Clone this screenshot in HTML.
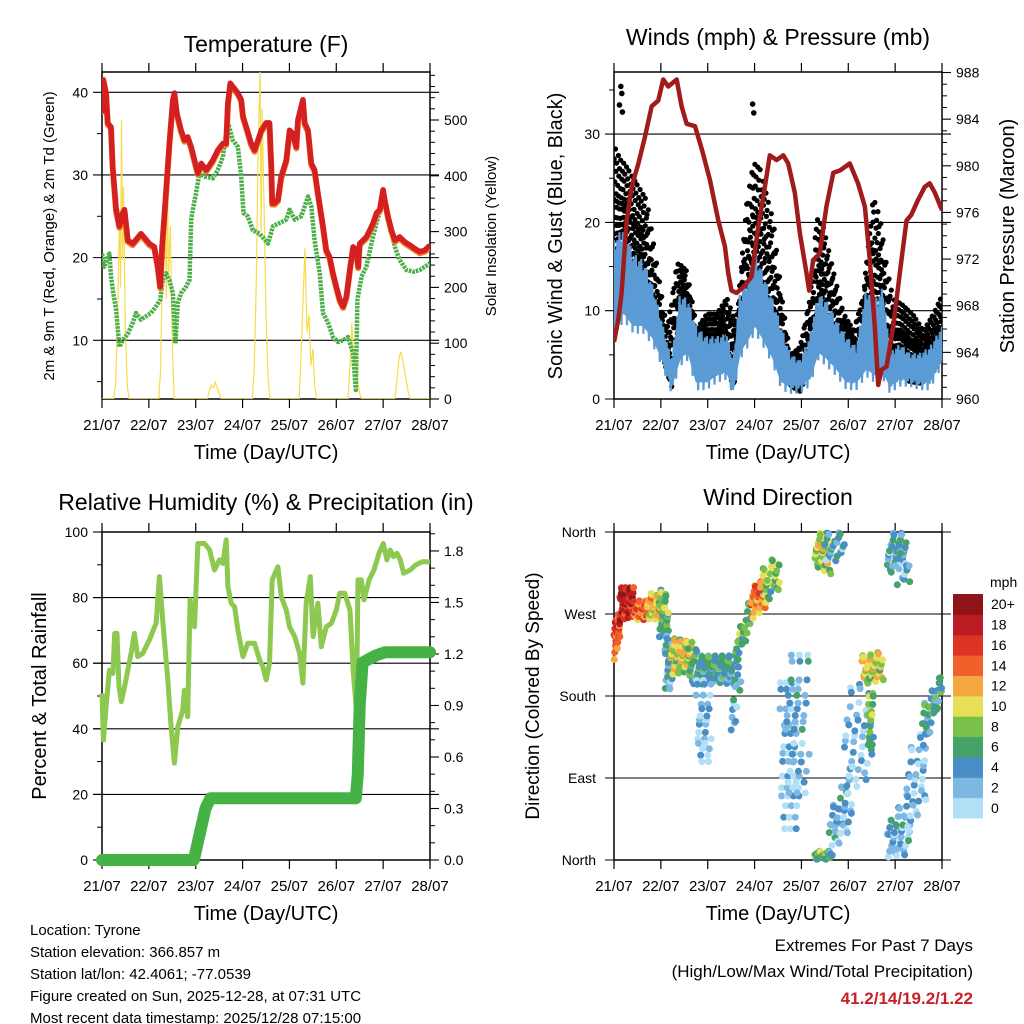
<!DOCTYPE html>
<html><head><meta charset="utf-8"><style>
html,body{margin:0;padding:0;background:#fff}
svg{display:block;font-family:"Liberation Sans",Arial,sans-serif}
</style></head><body>
<svg id="chart" width="1024" height="1024" viewBox="0 0 1024 1024" xmlns="http://www.w3.org/2000/svg">
<defs>
<clipPath id="c1"><rect x="102" y="72" width="328" height="327"/></clipPath>
<clipPath id="c2"><rect x="614" y="72" width="328" height="327"/></clipPath>
<clipPath id="c3"><rect x="92" y="526" width="348" height="340"/></clipPath>
<clipPath id="c4"><rect x="608" y="526" width="340" height="340"/></clipPath>
</defs>
<g id="root"></g>
</svg>
<script>
// ---------- Temperature data ----------
const tempHours=[0,0.7,2.1,2.9,4.6,5.5,7.2,8.9,10.6,11.5,13.2,15.7,20,24.3,26.8,28.6,29.8,30.8,32.5,34.5,36.3,37.1,38.3,40.5,42.2,43.9,45.7,47.4,49.1,50.8,53.4,56.8,59.3,61.9,63.6,64.5,65.7,67,69.6,71.3,72.2,73.9,76.4,78.1,79.9,81.6,84.1,85.8,86.7,87.2,88.4,90.1,91.8,94.4,96.1,97.8,99.5,100.4,102.1,102.9,103.8,105.5,107.2,108.9,110.6,113.2,114.9,116.6,118.3,120,121.8,123.5,125.2,126.9,128.6,130.3,131.2,132,133.7,135.4,137.1,138.9,140.6,142.3,144,144.8,146.5,148.3,150,152.5,155.1,157.7,160.2,162.8,165.4,168];
const tempRed=[37.5,41.5,39.9,36.3,35.8,31,25.8,23.8,25.4,25.8,22.1,21.7,22.9,21.7,21.3,18.9,16.5,21.3,27,33.8,39.1,39.9,37.5,35.4,34.2,34.6,33.4,31.8,30.2,31.4,30.6,31.8,33,33.8,33.8,38.7,41.1,40.7,39.9,39.1,37.1,35.8,33.8,33,34.2,35.4,36.3,36.3,31,26.6,26.6,27,29.8,31.8,35.4,35,33.4,36.7,38.3,39.1,36.3,35.4,31.4,30.6,27.8,23.8,20.9,20.1,18.1,16.5,14.9,14.1,15.3,18.5,21.3,20.9,18.9,21.7,22.1,22.5,23.3,24.2,25.4,25.8,28.2,27,25,23.3,22.1,22.5,21.9,21.5,21.1,20.7,20.9,21.5];
const tdHours=[0,1.2,3.8,4.6,5.8,7.2,8.9,10.6,13.2,15.7,17.4,20,22.6,25.1,27.7,29.8,31.1,32.8,34.5,36.3,37.6,38.8,40.5,43.1,44.8,45.7,46.5,48.2,49.9,52.5,56.8,59.3,61.9,63.9,64.9,67,69.6,71.3,72.5,74.7,77.3,80.7,85,87.6,91,94.4,96.1,98.7,102.1,105.5,107.2,108.9,111.5,113.2,115.8,118.3,120.9,123.5,126,128.6,130,130.8,132.9,135.4,138,140.6,143.1,144.8,147.4,150,152.5,155.9,159.4,162.8,168];
const tdValues=[20.5,18.9,20.5,17.7,15.7,13.7,9.2,10,10.8,12.1,13.3,12.5,12.9,13.3,14.1,14.9,17.3,18.1,17.3,15.7,9.6,14.5,15.7,16.5,17.3,24.6,25.8,27.8,30.2,29.8,29.6,30.6,32.2,35.8,36,34.2,33.4,29.8,25.4,25,23.3,22.9,21.7,23.8,24.2,24.6,25.8,24.6,25,27.4,26.2,22.1,18.1,13.3,12.1,10.4,9.8,10,10.4,8.4,4,14.9,17.7,18.9,21.7,24.2,26.2,26.6,23.8,21.3,19.7,18.5,18.3,18.5,19.3];
const solarHours=[0,6,7,8,9,9.5,10,10.5,11,12,13,14,29,30,31,32,33,33.5,34,35,36,37,38,54,55,56,57,58,59,60,61,77,78,79,80,81,81.5,82,83,84,85,86,101,102,103,104,105,106,107,108,109,110,126,127,128,129,130,131,132,133,150,151,152,153,154,155,156,157,158,168];
const solarValues=[0,0,30,150,340,200,500,250,380,120,20,0,0,50,250,380,180,430,220,310,100,0,0,0,15,25,20,30,20,10,0,0,60,200,450,590,300,520,350,150,40,0,0,80,180,270,120,150,60,90,20,0,0,60,136,60,90,30,10,0,0,30,70,85,70,50,30,10,0,0];
// ---------- Wind / pressure data ----------
const presHours=[0,2.2,3.9,6.5,9,12.5,15.9,19.3,22.7,25.2,27.8,32.1,34.6,37.2,41.5,45,49.1,53.4,56.8,58.5,60.2,62.8,66.2,70.5,73.9,77.3,79.8,83.3,86.7,89.2,92.6,95.2,98.6,100,102,105.4,108.8,112.3,115.7,120.8,125,128.5,131,133.6,135.3,137,139.6,143,146.4,149.8,152.3,155.8,159.2,161.7,164.3,168];
const presValues=[964.9,966.8,969.1,975.3,978.2,980.2,982.5,985.1,985.6,987.4,986.8,987.4,985.1,983.6,983.4,981.4,978.8,975.3,973.1,970.8,969.3,969.1,969.6,970.5,974.8,978.2,980.9,980.5,980.9,980.2,977.7,974.2,970.8,969.3,971.9,972.5,976.5,979.4,979.6,980.2,978.5,976.5,971.9,966.2,961.2,962.5,962.8,966.2,970.8,975.3,975.8,977.1,978.2,978.5,977.7,976.2];
const windHours=[0,4.8,9.9,15,20.1,25.2,29.5,33.8,38,42.3,47.4,52.5,57.7,61.1,64.5,68.8,72.2,76.4,81.5,85.8,90.1,95.2,100.3,104.6,108.8,114,119.1,124.2,129.3,133.6,137.8,141.3,146.4,151.5,156.6,161.7,168];
const windUpper=[18,19.5,16.5,15.7,12.7,8.2,4.4,12,11.2,8.2,7.1,7.1,7.4,4.4,12,13.8,16.5,14.2,11.2,8.2,5.2,4.4,7.1,12,11.2,8.9,7.1,5.9,12.7,11.2,12.7,5.2,6.3,5.2,5.2,5.9,8.2];
const windLower=[6.3,8.9,7.4,7.4,5.9,3.3,0.6,3.7,4.4,1,1,1.8,2.2,0.3,4.4,5.9,7.4,5.9,3.7,1,0.6,0.6,1.4,4.4,3.7,2.5,1,1,2.5,1.8,2.2,0.6,1.4,1.4,1,1,3.7];
const gustHours=[0,3.1,6.5,11.6,16.7,21.8,27,32.1,37.2,42.3,47.4,52.5,57.7,62.8,67.9,71.3,74.7,78.1,81.5,85.8,90.1,95.2,100.3,103.7,107.1,112.3,117.4,122.5,127.6,132.7,136.1,139.5,143,148.1,153.2,158.3,163.4,168];
const gustUpper=[29.7,28,27.1,25.2,23.3,15.7,8.2,16.1,15,8.2,10.1,10.1,12,8.9,23.3,27.8,27.1,24,21,12,5.2,6.3,12,21.4,20.3,15,10.1,8.2,12,24,21.4,15.7,12,11.2,10.1,8.2,10.1,12.3];
const gustOutlierH=[3.5,4,4.3,2.8,71,71.6];
const gustOutlierV=[35.4,34.6,32.5,33.3,33.4,32.4];
// ---------- RH / precip data ----------
const rhHours=[0,0.7,2.1,3.8,5.6,6.5,7.7,8.7,9.9,11.6,13.2,14.9,16.6,18.3,20.9,24.3,27.7,29.4,31.1,33.7,35.4,37.1,38.8,41.4,42.2,43.9,45.1,47.4,49.1,52.5,55.1,57.6,60.2,61.9,63.6,64.5,66.2,67.9,69.6,72.2,74.7,78.1,80.7,82.4,84.1,85.8,87.2,90.1,91.8,94.4,96.1,98.7,101.2,102.9,104.6,106.7,108.1,110.6,112.3,114.9,117.5,120,121.8,124.3,127,128.6,130.3,131.1,132.8,134.2,136.8,139.3,141.9,144.1,145.9,147.6,149.3,151.1,152.8,154.5,157.9,160.5,163.9,168];
const rhValues=[50.8,36.6,46.7,57.9,56.9,69.1,69.1,52.8,48.3,52.8,57.9,63,69.1,62,63,67.1,72.2,86.4,73.2,54.9,40.6,29.5,40.6,45.7,51.8,43.7,79.3,71.1,96.5,96.5,94.5,88.4,91.5,90.4,97.6,83.3,78.3,77.2,70.1,62,66.1,66.1,61,58.9,54.9,60,85.4,89.4,80.3,76.2,71.1,68.1,63,53.9,78.3,86.4,68.1,78.3,65,71.1,72.2,76.2,81.3,81.3,76.2,57.9,45.7,85.4,85.4,79.3,85.4,88.4,93.5,96.5,91.5,94.5,92.5,93.5,91.5,87.4,88.4,89.9,90.9,90.9];
const rainHours=[0,47,49,53,55.5,130,131,132,133.5,140,145,168];
const rainValues=[0,0,0.1,0.3,0.36,0.36,0.5,0.9,1.15,1.19,1.21,1.21];
// ---------- Wind direction clusters ----------
// [startHour, endHour, degLowStart, degHighStart, degLowEnd, degHighEnd, speedMph, count]
const dirClusters=[
[0,3,215,260,240,275,15,14],[3,10,260,300,265,300,18,24],[10,17,262,285,262,285,14,16],[17,24,262,295,262,290,11,16],
[23,28,240,300,245,290,7,14],[26,30,183,250,183,240,4,12],[29,40,200,245,205,240,10,26],[38,45,190,235,190,230,6,12],
[44,62,195,225,190,225,5,36],[42,50,100,200,100,200,2,16],[60,65,120,200,180,220,3,8],[62,70,210,240,250,290,7,14],
[70,78,260,300,275,310,13,18],[76,85,275,320,295,340,8,14],[85,95,20,200,20,200,2,24],[88,100,60,230,60,230,3,20],
[103,111,320,360,310,360,9,18],[108,118,320,360,330,360,4,12],[103,112,0,10,0,10,7,14],[110,122,0,50,30,110,3,20],
[118,130,60,190,80,200,2,18],[127,138,190,225,195,230,10,20],[130,133,110,185,110,185,7,10],[140,150,310,360,320,360,4,18],
[144,152,290,340,300,340,4,6],[140,152,0,40,0,80,3,20],[150,160,20,120,60,150,2,16],[158,168,110,170,180,205,5,18]];
const speedColors=['#b3e0f7','#7db8e2','#4a8ec6','#45a36a','#7bc04a','#e6df57','#f5a742','#f0602a','#dc3326','#bb1c22','#8f1418'];
const speedLabels=['0','2','4','6','8','10','12','14','16','18','20+'];
const dayLabels=['21/07','22/07','23/07','24/07','25/07','26/07','27/07','28/07'];

const NS='http://www.w3.org/2000/svg';
const root=document.getElementById('root');
function el(tag,attrs,parent){const e=document.createElementNS(NS,tag);for(const k in attrs)e.setAttribute(k,attrs[k]);(parent||root).appendChild(e);return e;}
function txt(s,x,y,size,anchor,parent,extra){const t=el('text',Object.assign({x:x,y:y,'font-size':size,'text-anchor':anchor||'middle',fill:'#000'},extra||{}),parent);t.textContent=s;return t;}
function interp(hs,vs,h){if(h<=hs[0])return vs[0];for(let i=1;i<hs.length;i++){if(h<=hs[i]){const f=(h-hs[i-1])/(hs[i]-hs[i-1]);return vs[i-1]+f*(vs[i]-vs[i-1]);}}return vs[vs.length-1];}
function pathD(hs,vs,fx,fy){return hs.map((h,i)=>(i?'L':'M')+fx(h).toFixed(1)+','+fy(vs[i]).toFixed(1)).join('');}

function frame(x0,y0,x1,y1,name){
  const g=el('g',{});
  
  
  el('rect',{x:x0,y:y0,width:x1-x0,height:y1-y0,fill:'none',stroke:'#000','stroke-width':1.5},g);
  for(let d=0;d<8;d++){const x=x0+d*(x1-x0)/7;
    el('line',{x1:x,y1:y0,x2:x,y2:y0-9,stroke:'#000','stroke-width':1.2},g);
    el('line',{x1:x,y1:y1,x2:x,y2:y1+9,stroke:'#000','stroke-width':1.2},g);
    const t=txt(dayLabels[d],x,y1+31,15,'middle',g);
    
    }
  const tt=txt('Time (Day/UTC)',(x0+x1)/2,y1+60,20,'middle',g);
  
  
  return g;
}
function yTicksLeft(g,x0,x1,vals,fy,labels,grid,minor,mfy){
  vals.forEach((v,i)=>{const y=fy(v);
    if(grid) el('line',{x1:x0-9,y1:y,x2:x1+9,y2:y,stroke:'#000','stroke-width':1.1},g);
    else el('line',{x1:x0-9,y1:y,x2:x0,y2:y,stroke:'#000','stroke-width':1.1},g);
    const t=txt(labels[i],x0-14,y+5,14,'end',g);
    
    });
  (minor||[]).forEach(v=>{const y=mfy(v);el('line',{x1:x0-5,y1:y,x2:x0,y2:y,stroke:'#000','stroke-width':1},g);});
}
function yTicksRight(g,x1,vals,fy,labels,minor){
  vals.forEach((v,i)=>{const y=fy(v);el('line',{x1:x1,y1:y,x2:x1+9,y2:y,stroke:'#000','stroke-width':1.1},g);
    const t=txt(labels[i],x1+14,y+5,14,'start',g);
    
    });
  (minor||[]).forEach(v=>{const y=fy(v);el('line',{x1:x1,y1:y,x2:x1+5,y2:y,stroke:'#000','stroke-width':1},g);});
}
function rotTitle(s,x,y,size,name){const t=txt(s,x,y,size,'middle',root,{transform:'rotate(-90 '+x+' '+y+')'});
  
  }
function range(a,b,s){const r=[];for(let v=a;v<=b+1e-9;v+=s)r.push(+v.toFixed(4));return r;}

// ================= Panel 1: Temperature =================
(function(){
  const x0=102,x1=430,y0=72,y1=399;
  const fx=h=>x0+h*(x1-x0)/168, fy=v=>340.3-(v-10)*8.267, fyR=v=>399-v*0.558;
  const t=txt('Temperature (F)',266,52,23,'middle');
  
  
  const g=frame(x0,y0,x1,y1,'temperature');
  yTicksLeft(g,x0,x1,[10,20,30,40],fy,['10','20','30','40'],true,[5,15,25,35],fy);
  yTicksRight(g,x1,[0,100,200,300,400,500],fyR,['0','100','200','300','400','500'],range(20,580,20).filter(v=>v%100));
  const pg=el('g',{'clip-path':'url(#c1)'});
  
  
  const sol=el('path',{d:pathD(solarHours,solarValues,fx,fyR),fill:'none',stroke:'#f6dc4a','stroke-width':1.2},pg);
  
  
  const td=el('path',{d:pathD(tdHours,tdValues,fx,fy),fill:'none',stroke:'#4caf48','stroke-width':4.5,'stroke-dasharray':'2.6 1','stroke-linejoin':'round'},pg);
  
  
  const o=el('path',{d:pathD(tempHours,tempRed,fx,v=>fy(v)+1.5),fill:'none',stroke:'#f07f2a','stroke-width':6,'stroke-linejoin':'round'},pg);
  
  
  const r=el('path',{d:pathD(tempHours,tempRed,fx,fy),fill:'none',stroke:'#d42020','stroke-width':5.5,'stroke-linejoin':'round'},pg);
  
  
  rotTitle('2m & 9m T (Red, Orange) & 2m Td (Green)',54,236,15,'y-axis-title');
  rotTitle('Solar Insolation (Yellow)',496,236,15,'y2-axis-title');
})();

// ================= Panel 2: Winds & Pressure =================
(function(){
  const x0=614,x1=942,y0=72,y1=399;
  const fx=h=>x0+h*(x1-x0)/168, fy=v=>399-v*8.83, fyR=v=>399-(v-960)*11.66;
  const t=txt('Winds (mph) & Pressure (mb)',778,45,23,'middle');
  
  
  const g=frame(x0,y0,x1,y1,'winds');
  yTicksLeft(g,x0,x1,[0,10,20,30],fy,['0','10','20','30'],true,[5,15,25,35],fy);
  yTicksRight(g,x1,[960,964,968,972,976,980,984,988],fyR,['960','964','968','972','976','980','984','988'],range(961,987,1).filter(v=>v%4));
  const pg=el('g',{'clip-path':'url(#c2)'});
  
  
  const frac=[0.08,0.55,0.3,0.85,0.18,0.68,0.42,0.93,0.25,0.6,0.12,0.77,0.36,0.5];
  const dx=[0,0.15,-0.1,0.2,-0.18,0.07,0.12];
  const dg=el('g',{fill:'#000'},pg);
  
  
  let k=0;
  for(let h=0;h<=168;h+=0.3){const lo=interp(windHours,windUpper,h)-4,hi=interp(gustHours,gustUpper,h);
    for(let j=0;j<3;j++){const f=frac[(k++)%frac.length];const v=lo+(hi-lo)*f;
      el('circle',{cx:fx(h+dx[k%7]).toFixed(1),cy:fy(v).toFixed(1),r:2.6},dg);}}
  gustOutlierH.forEach((h,i)=>el('circle',{cx:fx(h),cy:fy(gustOutlierV[i]),r:2.8},dg));
  let d='';windHours.forEach((h,i)=>{d+=(i?'L':'M')+fx(h)+','+fy(windUpper[i]-1.5);});
  for(let i=windHours.length-1;i>=0;i--)d+='L'+fx(windHours[i])+','+fy(windLower[i]+1);
  const band=el('path',{d:d+'Z',fill:'#5b9bd5',stroke:'#5b9bd5','stroke-width':2},pg);
  
  
  let z='';let s=0;const zf=[1,0.3,0.85,0,0.6,0.95,0.15,0.7];
  for(let h=0;h<=168;h+=0.35){const lo=interp(windHours,windLower,h),hi=interp(windHours,windUpper,h);const v=lo+(hi-lo)*zf[(s++)%8];z+=(z?'L':'M')+fx(h).toFixed(1)+','+fy(v).toFixed(1);}
  const zz=el('path',{d:z,fill:'none',stroke:'#5b9bd5','stroke-width':2.2},pg);
  
  
  const p=el('path',{d:pathD(presHours,presValues,fx,fyR),fill:'none',stroke:'#a01b1b','stroke-width':4.5,'stroke-linejoin':'round'},pg);
  
  
  rotTitle('Sonic Wind & Gust (Blue, Black)',562,236,20,'y-axis-title');
  rotTitle('Station Pressure (Maroon)',1014,236,20,'y2-axis-title');
})();

// ================= Panel 3: RH & Precip =================
(function(){
  const x0=102,x1=430,y0=532,y1=860;
  const fx=h=>x0+h*(x1-x0)/168, fy=v=>860-v*3.28, fyR=v=>860-v*171.7;
  const t=txt('Relative Humidity (%) & Precipitation (in)',266,510,23,'middle');
  
  
  const g=frame(x0,y0,x1,y1,'humidity');
  yTicksLeft(g,x0,x1,[0,20,40,60,80,100],fy,['0','20','40','60','80','100'],false,[10,30,50,70,90],fy);
  [20,40,60,80].forEach(v=>el('line',{x1:x0-9,y1:fy(v),x2:x1+9,y2:fy(v),stroke:'#000','stroke-width':1.1},g));
  yTicksRight(g,x1,[0,0.3,0.6,0.9,1.2,1.5,1.8],fyR,['0.0','0.3','0.6','0.9','1.2','1.5','1.8'],[0.1,0.2,0.4,0.5,0.7,0.8,1.0,1.1,1.3,1.4,1.6,1.7,1.9]);
  const pg=el('g',{'clip-path':'url(#c3)'});
  
  
  const rh=el('path',{d:pathD(rhHours,rhValues,fx,fy),fill:'none',stroke:'#8dc850','stroke-width':5,'stroke-linejoin':'round'},pg);
  
  
  const rn=el('path',{d:pathD(rainHours,rainValues,fx,fyR),fill:'none',stroke:'#45b245','stroke-width':12,'stroke-linejoin':'round','stroke-linecap':'round'},pg);
  
  
  rotTitle('Percent & Total Rainfall',46,696,20,'y-axis-title');
})();

// ================= Panel 4: Wind Direction =================
(function(){
  const x0=614,x1=942,y0=532,y1=860;
  const fx=h=>x0+h*(x1-x0)/168, fy=d=>860-d*(328/360);
  const t=txt('Wind Direction',778,505,23,'middle');
  
  
  const g=frame(x0,y0,x1,y1,'wind-direction');
  const dirs=[0,90,180,270,360],names=['North','East','South','West','North'];
  dirs.forEach((v,i)=>{const y=fy(v);el('line',{x1:x0-9,y1:y,x2:x1+9,y2:y,stroke:'#000','stroke-width':1.1},g);
    const l=txt(names[i],x0-18,y+5,14,'end',g);
    
    });
  const pg=el('g',{'clip-path':'url(#c4)'});
  
  
  const fa=[0.12,0.63,0.37,0.88,0.05,0.51,0.76,0.24,0.94,0.44,0.69,0.17];
  const fb=[0.71,0.22,0.93,0.4,0.58,0.08,0.81,0.33,0.49,0.15,0.66,0.97,0.28,0.54];
  const sp=[0,-2,2,-1,1,-3,3,0,-1,2];
  let k=0;
  dirClusters.forEach(c=>{
    const n=c[7]*2;
    for(let i=0;i<n;i++){
      const a=fa[k%12],b=fb[(k*5)%14],s=Math.max(0,c[6]+sp[k%10]);k++;
      const h=c[0]+(c[1]-c[0])*((i+a)/n);
      const f=(h-c[0])/(c[1]-c[0]||1);
      const lo=c[2]+(c[4]-c[2])*f,hi=c[3]+(c[5]-c[3])*f;
      const dv=lo+(hi-lo)*b;
      const ci=Math.min(10,Math.floor(s/2));
      const pt=el('circle',{cx:fx(h).toFixed(1),cy:fy(dv).toFixed(1),r:3.5,fill:speedColors[ci]},pg);
      
      
    }});
  rotTitle('Direction (Colored By Speed)',539,696,19,'y-axis-title');
  const cb=el('g',{});
  
  
  const bh=224/11;
  for(let i=0;i<11;i++){const y=594+(10-i)*bh;
    el('rect',{x:953,y:y.toFixed(1),width:30,height:(bh+0.5).toFixed(1),fill:speedColors[i]},cb);
    const l=txt(speedLabels[i],991,y+bh/2+5,14,'start',cb);
    
    }
  const m=txt('mph',990,587,14,'start',cb);
  
  
})();

// ================= Footer text =================
(function(){
  const lines=['Location: Tyrone','Station elevation: 366.857 m','Station lat/lon: 42.4061; -77.0539','Figure created on Sun, 2025-12-28, at 07:31 UTC','Most recent data timestamp: 2025/12/28 07:15:00'];
  const g=el('g',{});
  
  
  lines.forEach((s,i)=>txt(s,30,935+i*22,15,'start',g));
  const g2=el('g',{});
  
  
  txt('Extremes For Past 7 Days',973,951,17,'end',g2);
  txt('(High/Low/Max Wind/Total Precipitation)',973,977,17,'end',g2);
  txt('41.2/14/19.2/1.22',973,1004,17,'end',g2,{fill:'#c8202a','font-weight':'bold'});
})();
</script>
</body></html>
